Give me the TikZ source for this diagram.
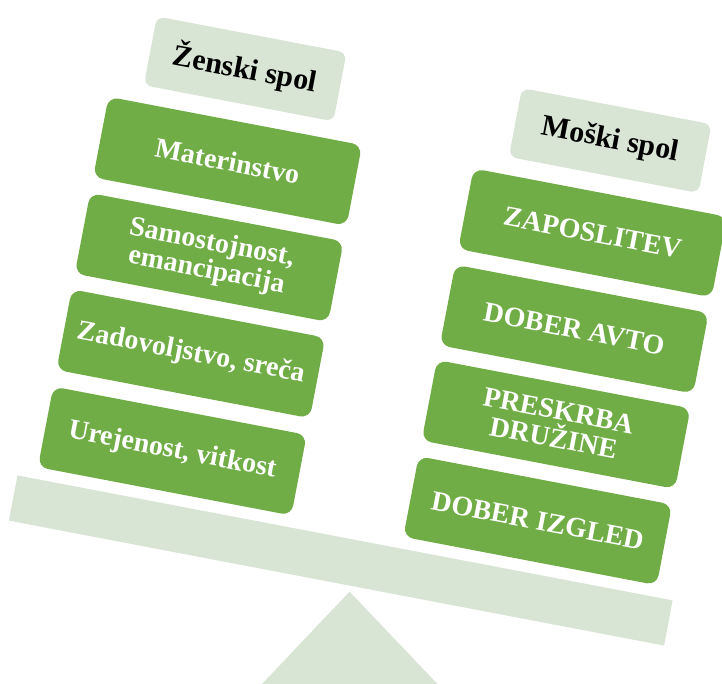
\documentclass[tikz,border=0pt]{standalone}
\usepackage{fontspec}
\setmainfont{Liberation Serif}
\definecolor{leaf}{RGB}{112,173,71}
\definecolor{pale}{RGB}{216,228,212}

\begin{document}
\begin{tikzpicture}[x=0.5pt,y=0.5pt,
		item/.style={fill=leaf,rounded corners=5pt,minimum width=129pt,minimum height=41pt,inner sep=2pt,
			text=white,align=center,font=\fontsize{14}{14}\selectfont\bfseries,transform shape},
		head/.style={fill=pale,rounded corners=4pt,minimum width=96.5pt,minimum height=35pt,inner sep=2pt,
			font=\fontsize{15}{15}\selectfont\bfseries,transform shape}]
		\clip (0,0) rectangle (722,684);
		\fill[pale] (349.5,92.3) -- (262,0) -- (437.5,0) -- cycle;
		\begin{scope}[shift={(340.75,123.5)},rotate=-10.8]
			\fill[pale] (-333.5,-23) rectangle (333.5,23);
			% left pan
			\node[head] (zenski) at (-186,465) {Ženski spol};
			\node[item] (materinstvo) at (-186,371) {Materinstvo};
			\node[item] (samostojnost) at (-186,273) {Samostojnost,\\emancipacija};
			\node[item] (zadovoljstvo) at (-186,175) {Zadovoljstvo, sreča};
			\node[item] (urejenost) at (-186,76) {Urejenost, vitkost};
			% right pan
			\node[head] (moski) at (186,463) {Moški spol};
			\node[item] (zaposlitev) at (186,369) {ZAPOSLITEV};
			\node[item] (avto) at (186,271) {DOBER AVTO};
			\node[item] (preskrba) at (186,174) {PRESKRBA\\DRUŽINE};
			\node[item] (izgled) at (186,76) {DOBER IZGLED};
		\end{scope}
\end{tikzpicture}
\end{document}
